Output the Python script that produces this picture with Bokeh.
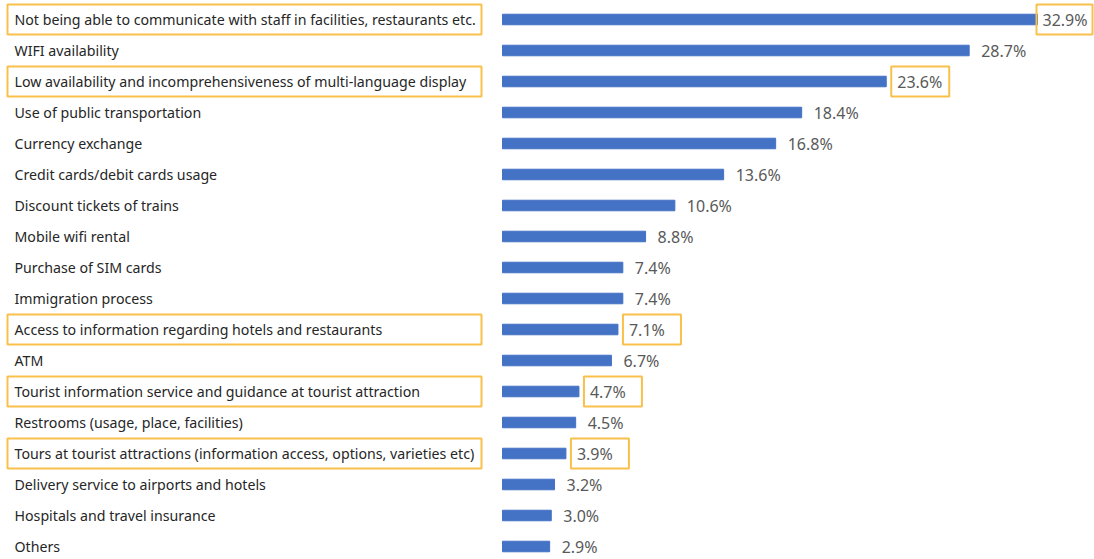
from bokeh.plotting import figure
from bokeh.models import Range1d, ColumnDataSource
from bokeh.core.properties import value
from bokeh.embed import file_html
from bokeh.resources import INLINE

categories = [
    "Not being able to communicate with staff in facilities, restaurants etc.",
    "WIFI availability",
    "Low availability and incomprehensiveness of multi-language display",
    "Use of public transportation",
    "Currency exchange",
    "Credit cards/debit cards usage",
    "Discount tickets of trains",
    "Mobile wifi rental",
    "Purchase of SIM cards",
    "Immigration process",
    "Access to information regarding hotels and restaurants",
    "ATM",
    "Tourist information service and guidance at tourist attraction",
    "Restrooms (usage, place, facilities)",
    "Tours at tourist attractions (information access, options, varieties etc)",
    "Delivery service to airports and hotels",
    "Hospitals and travel insurance",
    "Others",
]
values = [32.9, 28.7, 23.6, 18.4, 16.8, 13.6, 10.6, 8.8, 7.4, 7.4, 7.1, 6.7, 4.7, 4.5, 3.9, 3.2, 3.0, 2.9]
highlighted = [True, False, True, False, False, False, False, False, False, False,
               True, False, True, False, True, False, False, False]

W, H = 1094, 559
PX = 16.26         # pixels per percent
X0 = 502           # pixel where bars start
ROW = 31.0         # row spacing in px
TOP = 19           # first row center in px

def px(n):
    return n / PX

rows = list(range(len(categories)))
labels = ["%.1f%%" % v for v in values]

p = figure(width=W, height=H, output_backend="svg", toolbar_location=None,
           x_range=Range1d(-X0 / PX, (W - X0) / PX),
           y_range=Range1d((H - TOP) / ROW, -TOP / ROW),
           min_border=0, outline_line_color=None)
p.xaxis.visible = False
p.yaxis.visible = False
p.xgrid.visible = False
p.ygrid.visible = False

src = ColumnDataSource(dict(y=rows, v=values, cat=categories, lab=labels))
p.hbar(y="y", left=0, right="v", height=0.34, color="#4472C4", source=src)

# category labels
lab_x = px(14 - X0)
p.text(x=lab_x, y="y", text="cat", source=src, text_font=value("Noto Sans"),
       text_font_size="14.2px", text_color="#262626", text_baseline="middle", text_align="left")

# value labels
vx, vy, vt = [], [], []
bx_l, bx_r, by = [], [], []
for i, v in enumerate(values):
    if highlighted[i]:
        left = v + px(5)
        right = left + px(58)
        lim = (W - X0 - 2) / PX
        if right > lim:
            right = lim
            left = max(v - px(1), right - px(56))
        bx_l.append(left); bx_r.append(right); by.append(i)
        vx.append(left + px(6))
    else:
        vx.append(v + px(12))
    vy.append(i)
    vt.append(labels[i])

p.text(x=vx, y=vy, text=vt, text_font=value("Noto Sans"), text_font_size="16px",
       text_color="#595959", text_baseline="middle", text_align="left")

# highlight boxes
hl_rows = [i for i, h in enumerate(highlighted) if h]
p.quad(left=px(7 - X0), right=px(481 - X0),
       top=[r - 0.48 for r in hl_rows], bottom=[r + 0.48 for r in hl_rows],
       fill_color=None, line_color="#F9C04A", line_width=2)
p.quad(left=bx_l, right=bx_r, top=[r - 0.48 for r in by], bottom=[r + 0.48 for r in by],
       fill_color=None, line_color="#F9C04A", line_width=2)

open("out.html", "w").write(file_html(p, INLINE))
